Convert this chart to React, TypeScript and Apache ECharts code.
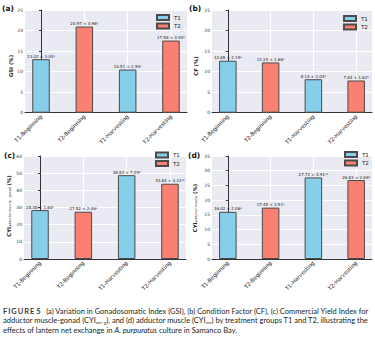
import React, { useEffect, useRef } from "react";
import * as echarts from "echarts";

// ---- data ----
const categories = ["T1-Beginning", "T2-Beginning", "T1-Harvesting", "T2-Harvesting"];
const groupOf = ["T1", "T2", "T1", "T2"];
const groupNames = ["T1", "T2"];

const gsiMean = [13.02, 20.97, 10.51, 17.56];
const gsiSD = [3.44, 4.96, 2.5, 3.93];
const gsiSig = ["a", "b", "a", "b"];

const cfMean = [12.65, 12.24, 8.14, 7.84];
const cfSD = [2.19, 1.86, 2.04, 1.62];
const cfSig = ["a", "a", "b", "b"];

const cyiAmgMean = [28.48, 27.52, 48.83, 43.84];
const cyiAmgSD = [1.64, 2.46, 7.29, 4.31];
const cyiAmgSig = ["a", "a", "b", "ab"];

const cyiAmMean = [16.02, 17.45, 27.72, 26.83];
const cyiAmSD = [2.06, 3.51, 4.91, 2.69];
const cyiAmSig = ["a", "a", "ab", "b"];

const yMaxes = [25, 25, 60, 35];
const ySteps = [5, 5, 10, 5];
const panelLetters = ["(a)", "(b)", "(c)", "(d)"];

// ---- styling / layout ----
const FONT = "DejaVu Sans";
const CAP_FONT = "Lato";
const BG = "#EAEAF2";
const COLORS: Record<string, string> = { T1: "#87CEEB", T2: "#FA8072" };
const EDGE = "#4a4a4a";

const layouts = [
  { left: 25, top: 10, width: 162, height: 102.7 },
  { left: 212, top: 10, width: 160, height: 102.7 },
  { left: 24, top: 156, width: 162, height: 103 },
  { left: 212, top: 156, width: 160, height: 103 },
];
const legendPos = [
  { left: 156, top: 14 },
  { left: 343, top: 15 },
  { left: 155, top: 151.5 },
  { left: 344, top: 151 },
];
const panelLabelPos = [
  { x: 2, y: 8 },
  { x: 189, y: 8 },
  { x: 4, y: 155 },
  { x: 188, y: 155 },
];
const yNamePos = [
  { x: 10, y: 66 },
  { x: 195, y: 66 },
  { x: 8, y: 206 },
  { x: 194, y: 208 },
];

const supMap: Record<string, string> = { a: "\u1d43", b: "\u1d47" };
const sup = (s: string) => s.split("").map((c) => supMap[c] || c).join("");

const panels = [
  { mean: gsiMean, sd: gsiSD, sig: gsiSig },
  { mean: cfMean, sd: cfSD, sig: cfSig },
  { mean: cyiAmgMean, sd: cyiAmgSD, sig: cyiAmgSig },
  { mean: cyiAmMean, sd: cyiAmSD, sig: cyiAmSig },
];

function buildOption() {
  const grid = layouts.map((l) => ({
    ...l,
    show: true,
    backgroundColor: BG,
    borderWidth: 0,
    containLabel: false,
  }));
  const xAxis = layouts.map((_, i) => ({
    type: "value",
    gridIndex: i,
    min: -0.37,
    max: 3.37,
    axisLine: { show: true, onZero: false, lineStyle: { color: "#333", width: 1 } },
    axisTick: { show: false, customValues: [0, 1, 2, 3] },
    axisLabel: {
      customValues: [0, 1, 2, 3],
      formatter: (v: number) => categories[Math.round(v)] ?? "",
      rotate: 45,
      fontSize: 5.5,
      fontFamily: FONT,
      color: "#222",
      margin: 3,
    },
    splitLine: { show: true, lineStyle: { color: "#fff", width: 1 } },
  }));
  const yAxis = layouts.map((_, i) => ({
    type: "value",
    gridIndex: i,
    min: 0,
    max: yMaxes[i],
    interval: ySteps[i],
    axisLine: { show: true, lineStyle: { color: "#333", width: 1 } },
    axisTick: { show: true, length: 2, lineStyle: { color: "#333" } },
    axisLabel: { fontSize: 4.5, fontFamily: FONT, color: "#333", margin: 2 },
    splitLine: { show: true, lineStyle: { color: "#fff", width: 1 } },
  }));
  const series: any[] = [];
  panels.forEach((p, i) => {
    groupNames.forEach((g) => {
      const data = p.mean
        .map((m, k) => (groupOf[k] === g ? [k, m] : null))
        .filter((d) => d !== null);
      series.push({
        type: "bar",
        name: g,
        xAxisIndex: i,
        yAxisIndex: i,
        data,
        barWidth: 17.5,
        barGap: "-100%",
        itemStyle: { color: COLORS[g], borderColor: EDGE, borderWidth: 1 },
        label: {
          show: true,
          position: "top",
          distance: 1,
          fontSize: 4,
          fontFamily: FONT,
          color: "#222",
          formatter: (params: any) => {
            const k = params.data[0];
            return `${p.mean[k].toFixed(2)} ± ${p.sd[k].toFixed(2)}${sup(p.sig[k])}`;
          },
        },
      });
    });
  });
  const legend = legendPos.map((pos) => ({
    data: groupNames,
    orient: "vertical",
    left: pos.left,
    top: pos.top,
    padding: 0,
    itemGap: 1.5,
    itemWidth: 12,
    itemHeight: 5,
    icon: "rect",
    selectedMode: false,
    textStyle: { fontSize: 5.5, fontFamily: FONT, color: "#222" },
  }));

  const yNames = [
    "{m|GSI (%)}",
    "{m|CF (%)}",
    "{m|CYI}{s|adductor muscle - gonad}{m| (%)}",
    "{m|CYI}{s|adductor muscle}{m| (%)}",
  ];
  const richY = {
    m: { fontSize: 5.3, fontWeight: "bold", fontFamily: FONT, fill: "#222", verticalAlign: "bottom", lineHeight: 7 },
    s: { fontSize: 3.2, fontFamily: FONT, fill: "#222", verticalAlign: "bottom", lineHeight: 5.5 },
  };

  const graphic: any[] = [];
  panelLabelPos.forEach((pos, i) => {
    graphic.push({
      type: "text",
      x: pos.x,
      y: pos.y,
      style: {
        text: panelLetters[i],
        fontSize: 7.5,
        fontWeight: "bold",
        fontFamily: FONT,
        fill: "#111",
        verticalAlign: "middle",
      },
    });
  });
  yNamePos.forEach((pos, i) => {
    graphic.push({
      type: "text",
      x: pos.x,
      y: pos.y,
      rotation: Math.PI / 2,
      style: {
        text: yNames[i],
        rich: richY,
        align: "center",
        verticalAlign: "middle",
      },
    });
  });

  const CAP = 7.5;
  const capRich = {
    n: { fontSize: CAP, fontFamily: CAP_FONT, fill: "#231f20" },
    fig: { fontSize: CAP, fontFamily: CAP_FONT, fontWeight: "bold", fill: "#3a3a3a" },
    sub: { fontSize: 4.3, fontFamily: CAP_FONT, fill: "#231f20", verticalAlign: "bottom", lineHeight: 6.5 },
    it: { fontSize: CAP, fontFamily: CAP_FONT, fontStyle: "italic", fill: "#231f20" },
  };
  const capLines = [
    "{fig|F\u2009I\u2009G\u2009U\u2009R\u2009E\u2009\u20095}{n|\u2002 (a) Variation in Gonadosomatic Index (GSI), (b) Condition Factor (CF), (c) Commercial Yield Index for}",
    "{n|adductor muscle-gonad (CYI}{sub|am\u2212g}{n|), and (d) adductor muscle (CYI}{sub|am}{n|) by treatment groups T1 and T2, illustrating the}",
    "{n|effects of lantern net exchange in }{it|A. purpuratus}{n| culture in Samanco Bay.}",
  ];
  const capY = [311, 320.5, 330];
  capLines.forEach((t, i) => {
    graphic.push({
      type: "text",
      x: 3,
      y: capY[i],
      style: { text: t, rich: capRich, verticalAlign: "middle", align: "left" },
    });
  });

  return {
    animation: false,
    backgroundColor: "#fff",
    textStyle: { fontFamily: FONT },
    grid,
    xAxis,
    yAxis,
    series,
    legend,
    graphic,
  };
}

export default function App() {
  const ref = useRef<HTMLDivElement>(null);
  useEffect(() => {
    document.body.style.margin = "0";
    const chart = echarts.init(ref.current!, null, { renderer: "svg" });
    chart.setOption(buildOption() as any);
    return () => chart.dispose();
  }, []);
  return (
    <div
      ref={ref}
      style={{ width: 375, height: 339, position: "absolute", left: 0, top: 0 }}
    />
  );
}
